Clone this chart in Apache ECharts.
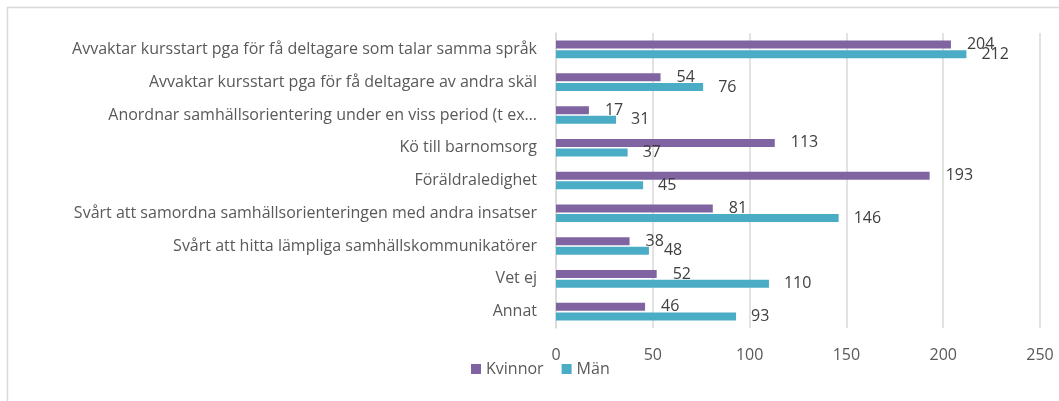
<!DOCTYPE html>
<html>
<head>
<meta charset="utf-8">
<script src="https://cdn.jsdelivr.net/npm/echarts@6/dist/echarts.min.js"></script>
<style>
html,body{margin:0;padding:0;background:#fff;}
#chart{width:1059px;height:401px;}
</style>
</head>
<body>
<div id="chart"></div>
<script>
const categories = [
  "Avvaktar kursstart pga för få deltagare som talar samma språk",
  "Avvaktar kursstart pga för få deltagare av andra skäl",
  "Anordnar samhällsorientering under en viss period (t ex…",
  "Kö till barnomsorg",
  "Föräldraledighet",
  "Svårt att samordna samhällsorienteringen med andra insatser",
  "Svårt att hitta lämpliga samhällskommunikatörer",
  "Vet ej",
  "Annat"
];
const kvinnor = [204, 54, 17, 113, 193, 81, 38, 52, 46];
const man = [212, 76, 31, 37, 45, 146, 48, 110, 93];
const seriesNames = ["Kvinnor", "Män"];

const FONT = "Open Sans";
const chart = echarts.init(document.getElementById('chart'));
chart.setOption({
  animation: false,
  textStyle: { fontFamily: FONT },
  grid: { left: 556, right: 19, top: 33, bottom: 73, containLabel: false },
  legend: {
    data: seriesNames,
    bottom: 19,
    left: 466,
    itemWidth: 10,
    itemHeight: 10,
    itemGap: 18,
    icon: 'rect',
    textStyle: { fontFamily: FONT, fontSize: 16, color: '#595959' }
  },
  graphic: [
    { type: 'line', shape: { x1: 7, y1: 7.5, x2: 1059, y2: 7.5 }, style: { stroke: '#d9d9d9', lineWidth: 1.5 } },
    { type: 'line', shape: { x1: 7.5, y1: 7, x2: 7.5, y2: 401 }, style: { stroke: '#d9d9d9', lineWidth: 1.5 } }
  ],
  xAxis: {
    type: 'value',
    min: 0, max: 250, interval: 50,
    axisLine: { show: false },
    axisTick: { show: false },
    splitLine: { show: true, lineStyle: { color: '#d9d9d9', width: 1.5 } },
    axisLabel: { fontFamily: FONT, fontSize: 16, color: '#595959', margin: 19 }
  },
  yAxis: {
    type: 'category',
    data: categories,
    inverse: true,
    axisLine: { show: true, lineStyle: { color: '#d9d9d9', width: 1.5 } },
    axisTick: { show: false },
    axisLabel: { fontFamily: FONT, fontSize: 16, color: '#595959', margin: 19 }
  },
  series: [
    {
      name: seriesNames[0], type: 'bar', data: kvinnor,
      barWidth: 8, barGap: '20%',
      itemStyle: { color: '#8064a2' },
      label: { show: true, position: 'right', distance: 16, fontFamily: FONT, fontSize: 16, color: '#404040' }
    },
    {
      name: seriesNames[1], type: 'bar', data: man,
      barWidth: 8, barGap: '20%',
      itemStyle: { color: '#4bacc6' },
      label: { show: true, position: 'right', distance: 15, fontFamily: FONT, fontSize: 16, color: '#404040' }
    }
  ]
});
</script>
</body>
</html>
